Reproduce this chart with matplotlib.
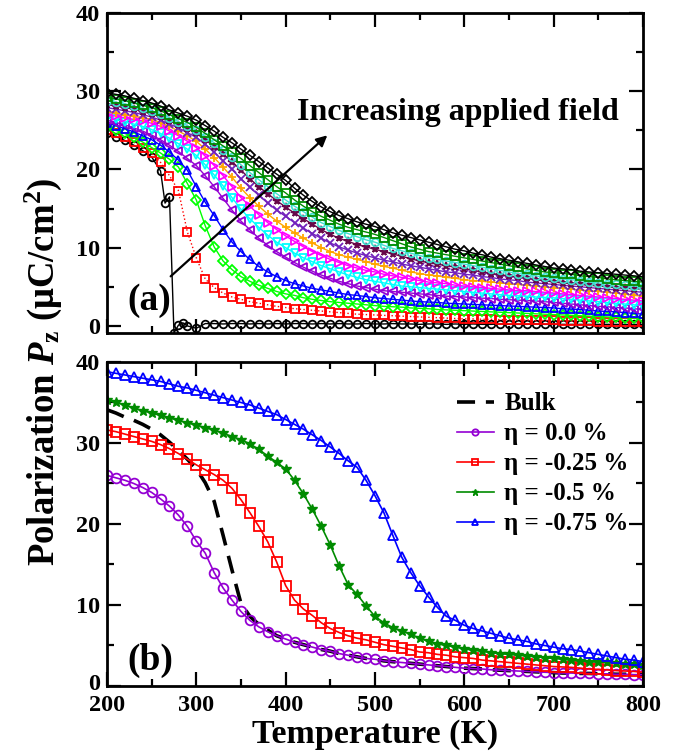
import matplotlib
matplotlib.use("Agg")
import matplotlib.pyplot as plt
from matplotlib.transforms import ScaledTranslation

# ---------------- data ----------------
temps = list(range(200, 801, 10))

# panel (a): polarization vs T for increasing applied field (bottom -> top)
temps_a0 = [200, 210, 220, 230, 240, 250, 260, 265, 270, 275, 280, 285, 290] + list(range(300, 801, 10))
pol_a0 = [24.6, 24.2, 23.7, 23.1, 22.4, 21.6, 19.8, 15.7, 16.5, -0.9, 0.1, 0.4, 0.0,
          -0.3, 0.3, 0.3, 0.25, 0.3, 0.3, 0.25, 0.3, 0.25, 0.3, 0.25, 0.3, 0.3, 0.25, 0.3, 0.25,
          0.3, 0.25, 0.25, 0.3, 0.25, 0.25, 0.3, 0.25, 0.25, 0.2, 0.25, 0.25, 0.2, 0.25, 0.2,
          0.25, 0.2, 0.2, 0.25, 0.2, 0.2, 0.2, 0.25, 0.2, 0.2, 0.2, 0.2, 0.2, 0.2, 0.2, 0.2, 0.2, 0.2,
          0.2, 0.2]
pol_a1 = [25.0, 24.6, 24.1, 23.5, 22.8, 22.1, 20.9, 19.2, 17.3, 12.0, 8.7, 6.0, 4.9, 4.2, 3.7, 3.4,
          3.1, 2.9, 2.7, 2.5, 2.35, 2.2, 2.1, 2.0, 1.9, 1.8, 1.7, 1.6, 1.5, 1.45, 1.4, 1.35, 1.3,
          1.25, 1.2, 1.15, 1.1, 1.05, 1.0, 0.95, 0.9, 0.9, 0.85, 0.85, 0.8, 0.8, 0.75, 0.75, 0.7,
          0.7, 0.7, 0.65, 0.65, 0.6, 0.6, 0.55, 0.55, 0.5, 0.5, 0.45, 0.45]
pol_a2 = [25.4, 25.0, 24.6, 24.1, 23.5, 22.8, 22.1, 21.3, 20.3, 18.2, 16.1, 12.8, 10.1, 8.3, 7.2,
          6.3, 5.7, 5.2, 4.8, 4.4, 4.1, 3.9, 3.6, 3.4, 3.25, 3.1, 3.0, 2.9, 2.8, 2.7, 2.6, 2.5,
          2.45, 2.4, 2.3, 2.25, 2.2, 2.1, 2.05, 2.0, 1.95, 1.9, 1.85, 1.8, 1.75, 1.7, 1.65, 1.6,
          1.55, 1.5, 1.45, 1.4, 1.35, 1.3, 1.25, 1.2, 1.15, 1.1, 1.05, 1.0, 1.0]
pol_a3 = [25.9, 25.6, 25.2, 24.8, 24.3, 23.8, 23.1, 22.2, 21.2, 19.9, 17.8, 15.8, 14.1, 12.3, 10.7,
          9.5, 8.5, 7.6, 6.9, 6.3, 5.8, 5.4, 5.1, 4.8, 4.6, 4.4, 4.2, 4.0, 3.9, 3.75, 3.6, 3.5,
          3.4, 3.3, 3.2, 3.1, 3.05, 3.0, 2.9, 2.85, 2.8, 2.75, 2.7, 2.65, 2.6, 2.55, 2.5, 2.45,
          2.4, 2.35, 2.3, 2.2, 2.15, 2.1, 2.0, 1.9, 1.85, 1.8, 1.7, 1.6, 1.5]
pol_a4 = [26.3, 26.0, 25.7, 25.3, 24.9, 24.4, 23.8, 23.1, 22.3, 21.4, 20.5, 19.2, 17.8, 16.3, 14.8,
          13.4, 12.3, 11.2, 10.3, 9.5, 8.8, 8.1, 7.5, 7.0, 6.5, 6.1, 5.7, 5.4, 5.1, 4.9, 4.7, 4.5,
          4.4, 4.3, 4.2, 4.1, 4.0, 3.9, 3.8, 3.75, 3.7, 3.6, 3.55, 3.5, 3.4, 3.35, 3.3, 3.25, 3.2,
          3.1, 3.0, 2.9, 2.8, 2.7, 2.6, 2.5, 2.45, 2.35, 2.3, 2.2, 2.1]
pol_a5 = [26.6, 26.4, 26.1, 25.8, 25.5, 25.1, 24.6, 24.0, 23.3, 22.6, 21.8, 20.6, 19.3, 17.9, 16.4,
          14.9, 13.7, 12.6, 11.6, 10.7, 10.0, 9.3, 8.7, 8.2, 7.7, 7.3, 6.9, 6.5, 6.2, 5.9, 5.7, 5.5,
          5.3, 5.1, 5.0, 4.9, 4.8, 4.7, 4.6, 4.5, 4.4, 4.3, 4.2, 4.1, 4.0, 3.9, 3.85, 3.8, 3.7,
          3.65, 3.6, 3.5, 3.4, 3.3, 3.2, 3.1, 3.0, 2.9, 2.8, 2.7, 2.6]
pol_a6 = [27.0, 26.8, 26.6, 26.4, 26.2, 25.9, 25.5, 24.9, 24.3, 23.6, 22.8, 21.7, 20.5, 19.2, 17.8,
          16.4, 15.3, 14.2, 13.2, 12.3, 11.5, 10.8, 10.1, 9.5, 9.0, 8.5, 8.1, 7.7, 7.4, 7.1, 6.9,
          6.6, 6.4, 6.2, 6.0, 5.8, 5.6, 5.5, 5.4, 5.2, 5.1, 5.0, 4.9, 4.8, 4.7, 4.6, 4.5, 4.5, 4.4,
          4.3, 4.2, 4.1, 4.0, 3.9, 3.8, 3.7, 3.6, 3.5, 3.4, 3.3, 3.2]
pol_a7 = [27.4, 27.2, 27.0, 26.8, 26.6, 26.4, 26.0, 25.5, 24.9, 24.3, 23.6, 22.6, 21.5, 20.3, 19.0,
          17.6, 16.4, 15.3, 14.3, 13.4, 12.6, 11.9, 11.2, 10.6, 10.0, 9.5, 9.1, 8.8, 8.5, 8.2, 7.9,
          7.6, 7.4, 7.1, 6.9, 6.7, 6.5, 6.4, 6.2, 6.1, 5.9, 5.8, 5.7, 5.6, 5.5, 5.4, 5.3, 5.2, 5.1,
          5.0, 4.9, 4.8, 4.7, 4.6, 4.5, 4.4, 4.3, 4.2, 4.05, 3.9, 3.8]
pol_a8 = [27.9, 27.7, 27.5, 27.3, 27.0, 26.7, 26.3, 25.8, 25.3, 24.7, 24.1, 23.2, 22.2, 21.1, 20.0,
          18.8, 17.7, 16.7, 15.7, 14.8, 14.0, 13.2, 12.5, 11.8, 11.2, 10.6, 10.1, 9.7, 9.3, 9.0,
          8.7, 8.4, 8.2, 7.9, 7.7, 7.5, 7.3, 7.1, 6.9, 6.8, 6.6, 6.5, 6.3, 6.2, 6.0, 5.9, 5.8, 5.6,
          5.5, 5.4, 5.3, 5.2, 5.1, 5.0, 4.9, 4.8, 4.7, 4.6, 4.5, 4.4, 4.3]
pol_a9 = [28.3, 28.1, 27.9, 27.7, 27.4, 27.1, 26.7, 26.2, 25.7, 25.2, 24.6, 23.8, 22.9, 22.0, 21.0,
          19.9, 18.8, 17.8, 16.9, 16.0, 15.2, 14.4, 13.7, 13.0, 12.3, 11.7, 11.2, 10.8, 10.4, 10.1,
          9.8, 9.5, 9.2, 8.9, 8.6, 8.3, 8.1, 7.9, 7.7, 7.5, 7.3, 7.1, 6.9, 6.7, 6.5, 6.4, 6.2, 6.1,
          5.9, 5.8, 5.6, 5.5, 5.4, 5.3, 5.2, 5.1, 5.0, 4.9, 4.8, 4.75, 4.7]
pol_a10 = [28.8, 28.6, 28.4, 28.1, 27.8, 27.5, 27.1, 26.6, 26.1, 25.6, 25.0, 24.2, 23.4, 22.5, 21.6,
           20.6, 19.6, 18.7, 17.8, 16.9, 16.1, 15.3, 14.6, 13.9, 13.2, 12.7, 12.2, 11.8, 11.4, 11.0,
           10.7, 10.3, 9.9, 9.6, 9.3, 9.0, 8.7, 8.5, 8.3, 8.1, 7.9, 7.7, 7.5, 7.3, 7.1, 6.9, 6.7,
           6.6, 6.4, 6.2, 6.1, 6.0, 5.9, 5.8, 5.6, 5.5, 5.4, 5.3, 5.2, 5.1, 5.0]
pol_a11 = [29.2, 29.0, 28.8, 28.5, 28.2, 27.9, 27.5, 27.0, 26.5, 26.0, 25.4, 24.6, 23.8, 23.0, 22.2,
           21.4, 20.5, 19.6, 18.7, 17.8, 17.0, 16.1, 15.3, 14.6, 14.0, 13.5, 13.0, 12.6, 12.3, 12.0,
           11.7, 11.3, 10.9, 10.5, 10.1, 9.8, 9.5, 9.3, 9.1, 8.9, 8.7, 8.5, 8.3, 8.1, 7.9, 7.7, 7.5,
           7.3, 7.1, 6.9, 6.8, 6.7, 6.6, 6.4, 6.3, 6.2, 6.0, 5.9, 5.8, 5.7, 5.6]
pol_a12 = [29.8, 29.6, 29.4, 29.1, 28.8, 28.5, 28.1, 27.6, 27.2, 26.8, 26.3, 25.6, 24.9, 24.1, 23.4,
           22.6, 21.8, 21.0, 20.2, 19.4, 18.6, 17.6, 16.7, 15.9, 15.2, 14.6, 14.1, 13.7, 13.3, 13.0,
           12.7, 12.3, 11.9, 11.6, 11.3, 11.0, 10.7, 10.4, 10.1, 9.8, 9.6, 9.3, 9.1, 8.8, 8.6, 8.4,
           8.2, 8.0, 7.8, 7.6, 7.4, 7.3, 7.2, 7.0, 6.9, 6.8, 6.7, 6.6, 6.5, 6.4, 6.3]

field_series = [pol_a0, pol_a1, pol_a2, pol_a3, pol_a4, pol_a5, pol_a6,
                pol_a7, pol_a8, pol_a9, pol_a10, pol_a11, pol_a12]

# panel (b): strain series
bulk = [34.1, 33.7, 33.2, 32.8, 32.3, 31.7, 31.0, 30.1, 29.1, 28.0, 26.8, 25.1, 22.8, 18.6, 14.3,
        10.2, 8.6, 7.6, 6.9, 6.2, 5.8, 5.4, 5.1, 4.8, 4.5, 4.3, 4.0, 3.8, 3.6, 3.4, 3.3, 3.1, 3.0,
        2.9, 2.8, 2.7, 2.6, 2.5, 2.4, 2.3, 2.2, 2.15, 2.1, 2.0, 1.95, 1.9, 1.85, 1.8, 1.75, 1.7,
        1.65, 1.6, 1.6, 1.55, 1.55, 1.5, 1.5, 1.45, 1.45, 1.4, 1.4]
eta_0 = [26.0, 25.7, 25.4, 25.0, 24.5, 23.9, 23.1, 22.2, 21.1, 19.7, 17.9, 16.4, 14.0, 12.1, 10.6,
         9.2, 8.1, 7.3, 6.7, 6.2, 5.8, 5.4, 5.1, 4.8, 4.5, 4.3, 4.0, 3.8, 3.6, 3.4, 3.3, 3.1, 3.0,
         2.9, 2.8, 2.7, 2.6, 2.5, 2.4, 2.3, 2.2, 2.15, 2.1, 2.0, 1.95, 1.9, 1.85, 1.8, 1.75, 1.7,
         1.65, 1.6, 1.6, 1.55, 1.55, 1.5, 1.5, 1.45, 1.45, 1.4, 1.4]
eta_025 = [31.6, 31.4, 31.1, 30.8, 30.5, 30.2, 29.8, 29.3, 28.7, 28.0, 27.3, 26.7, 26.1, 25.4, 24.4,
           23.0, 21.4, 19.7, 17.8, 15.3, 12.4, 10.6, 9.5, 8.7, 7.8, 7.1, 6.6, 6.2, 5.9, 5.7, 5.4,
           5.1, 4.9, 4.7, 4.5, 4.2, 4.1, 3.9, 3.8, 3.6, 3.5, 3.4, 3.2, 3.1, 3.0, 2.9, 2.8, 2.7, 2.6,
           2.5, 2.4, 2.35, 2.3, 2.2, 2.1, 2.05, 2.0, 1.9, 1.85, 1.8, 1.7]
eta_05 = [35.3, 35.0, 34.7, 34.3, 34.0, 33.7, 33.4, 33.1, 32.8, 32.5, 32.2, 31.9, 31.6, 31.2, 30.8,
          30.4, 29.9, 29.2, 28.4, 27.6, 26.8, 25.4, 23.7, 21.8, 19.7, 17.4, 14.8, 12.5, 11.3, 9.9,
          8.6, 7.8, 7.2, 6.8, 6.4, 5.9, 5.5, 5.2, 5.0, 4.8, 4.6, 4.4, 4.3, 4.1, 4.0, 3.9, 3.8, 3.7,
          3.6, 3.5, 3.4, 3.3, 3.2, 3.1, 3.0, 2.95, 2.9, 2.8, 2.75, 2.7, 2.6]
eta_075 = [38.8, 38.6, 38.4, 38.2, 38.0, 37.8, 37.6, 37.3, 37.0, 36.8, 36.5, 36.2, 35.9, 35.6, 35.3,
           35.0, 34.7, 34.3, 33.9, 33.5, 32.9, 32.3, 31.7, 31.0, 30.3, 29.5, 28.7, 27.8, 27.0, 25.4,
           23.5, 21.4, 18.6, 15.9, 14.0, 12.4, 11.0, 9.7, 8.6, 8.1, 7.5, 7.1, 6.8, 6.5, 6.2, 5.9,
           5.7, 5.5, 5.2, 5.0, 4.8, 4.6, 4.5, 4.3, 4.1, 3.9, 3.7, 3.5, 3.3, 3.2, 3.0]

strain_labels = ['η = 0.0 %', 'η = -0.25 %', 'η = -0.5 %', 'η = -0.75 %']

# ---------------- style ----------------
plt.rcParams['font.family'] = ['Liberation Serif', 'DejaVu Serif']
plt.rcParams['font.weight'] = 'bold'
plt.rcParams['mathtext.fontset'] = 'custom'
plt.rcParams['mathtext.rm'] = 'Liberation Serif:bold'
plt.rcParams['mathtext.it'] = 'Liberation Serif:bold:italic'
plt.rcParams['mathtext.bf'] = 'Liberation Serif:bold'
plt.rcParams['axes.linewidth'] = 2

field_colors = ['black', '#ff0000', '#00ff00', '#0000ff', '#9400d3', '#00ffff', '#ff00ff',
                '#ffa500', '#7221bc', '#670748', '#40e0d0', '#008b00', 'black']
field_markers = ['o', 's', 'D', '^', '<', 'v', '>', '+', 'x', '*', 'o', 's', 'D']

fig = plt.figure(figsize=(6.96, 7.54), dpi=100)
ax1 = fig.add_axes([0.1537, 0.5584, 0.770, 0.4244])
ax2 = fig.add_axes([0.1537, 0.0902, 0.770, 0.4297])

# panel (a)
for i, vals in enumerate(field_series):
    xs = temps_a0 if i == 0 else temps
    ls = ':' if i == 1 else '-'
    ax1.plot(xs, vals, color=field_colors[i], ls=ls, lw=1.0, marker=field_markers[i],
             ms=5.5, mfc='none', mew=1.3)

ax1.annotate('', xy=(449, 24.6), xytext=(269, 6.1),
             arrowprops=dict(arrowstyle='-|>', color='black', lw=1.6, mutation_scale=16))
ax1.text(413, 27.3, 'Increasing applied field', fontsize=23, fontweight='bold',
         ha='left', va='center')
ax1.text(0.078, 0.10, '(a)', transform=ax1.transAxes, fontsize=27, ha='center', va='center')

# panel (b)
ax2.plot(temps, bulk, color='black', lw=2.6, dashes=(5, 3), label='Bulk')
ax2.plot(temps, eta_0, color='#9400d3', lw=1.2, marker='o', ms=7, mfc='none', mew=1.3,
         label=strain_labels[0])
ax2.plot(temps, eta_025, color='#ff0000', lw=1.2, marker='s', ms=6.5, mfc='none', mew=1.3,
         label=strain_labels[1])
ax2.plot(temps, eta_05, color='#008b00', lw=1.2, marker='*', ms=7, mew=1.0,
         label=strain_labels[2])
ax2.plot(temps, eta_075, color='#0000ff', lw=1.2, marker='^', ms=7, mfc='none', mew=1.3,
         label=strain_labels[3])
ax2.text(0.08, 0.08, '(b)', transform=ax2.transAxes, fontsize=27, ha='center', va='center')

leg = ax2.legend(loc='upper left', bbox_to_anchor=(0.62, 0.96), frameon=False, fontsize=18,
                 handlelength=1.5, handletextpad=0.4, labelspacing=0.28, markerscale=0.65,
                 borderpad=0.2)

for ax in (ax1, ax2):
    ax.set_xlim(200, 800)
    ax.set_xticks(range(200, 801, 100))
    ax.set_xticks(range(250, 800, 100), minor=True)
    ax.set_yticks([0, 10, 20, 30, 40])
    ax.set_yticks([5, 15, 25, 35], minor=True)
    ax.tick_params(which='both', direction='in', top=True, right=True, width=1.6,
                   labelsize=17.5, pad=5)
    ax.tick_params(which='major', length=10)
    ax.tick_params(which='minor', length=5)

ax1.set_ylim(-0.9, 40)
ax1.tick_params(labelbottom=False)
ax2.set_ylim(0, 40)
ax2.tick_params(axis='x', pad=6.5)
ax2.set_xlabel('Temperature (K)', fontsize=24.5, fontweight='bold', labelpad=2)

# nudge the bottom "0" up a little so it does not run into the "200"
zero_lab = ax2.get_yticklabels()[0]
zero_lab.set_transform(zero_lab.get_transform() + ScaledTranslation(0, 3 / 72, fig.dpi_scale_trans))

fig.text(0.062, 1 - 372 / 754, 'Polarization $P_{\\rm z}$ (μC/cm$^{\\rm 2}$)', fontsize=26.5,
         fontweight='bold', rotation=90, ha='center', va='center')

fig.savefig('out.png', dpi=100)
